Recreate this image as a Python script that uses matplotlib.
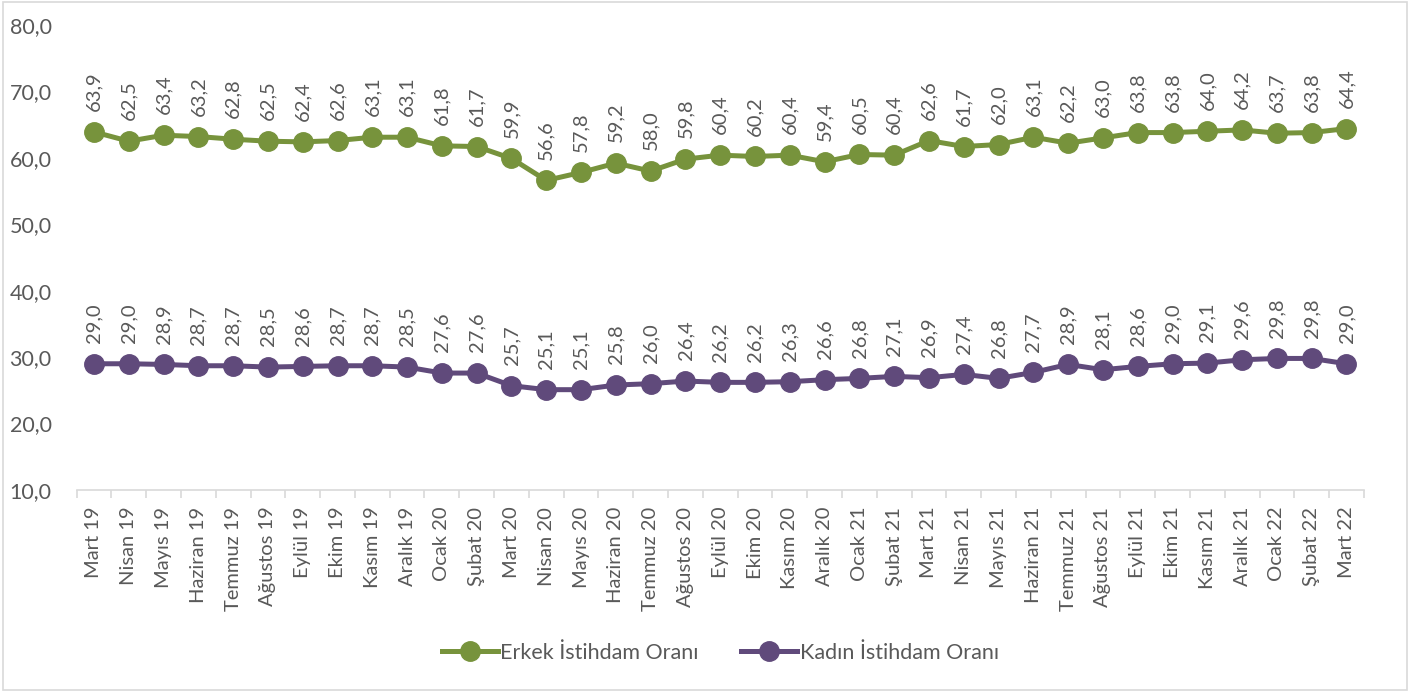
import numpy as np
import matplotlib
matplotlib.use('Agg')
import matplotlib.pyplot as plt
from matplotlib.patches import Rectangle

plt.rcParams['font.family'] = ['Lato', 'DejaVu Sans']

months = ['Mart 19', 'Nisan 19', 'Mayıs 19', 'Haziran 19', 'Temmuz 19', 'Ağustos 19',
          'Eylül 19', 'Ekim 19', 'Kasım 19', 'Aralık 19', 'Ocak 20', 'Şubat 20',
          'Mart 20', 'Nisan 20', 'Mayıs 20', 'Haziran 20', 'Temmuz 20', 'Ağustos 20',
          'Eylül 20', 'Ekim 20', 'Kasım 20', 'Aralık 20', 'Ocak 21', 'Şubat 21',
          'Mart 21', 'Nisan 21', 'Mayıs 21', 'Haziran 21', 'Temmuz 21', 'Ağustos 21',
          'Eylül 21', 'Ekim 21', 'Kasım 21', 'Aralık 21', 'Ocak 22', 'Şubat 22', 'Mart 22']

erkek = [63.9, 62.5, 63.4, 63.2, 62.8, 62.5, 62.4, 62.6, 63.1, 63.1, 61.8, 61.7,
         59.9, 56.6, 57.8, 59.2, 58.0, 59.8, 60.4, 60.2, 60.4, 59.4, 60.5, 60.4,
         62.6, 61.7, 62.0, 63.1, 62.2, 63.0, 63.8, 63.8, 64.0, 64.2, 63.7, 63.8, 64.4]

kadin = [29.0, 29.0, 28.9, 28.7, 28.7, 28.5, 28.6, 28.7, 28.7, 28.5, 27.6, 27.6,
         25.7, 25.1, 25.1, 25.8, 26.0, 26.4, 26.2, 26.2, 26.3, 26.6, 26.8, 27.1,
         26.9, 27.4, 26.8, 27.7, 28.9, 28.1, 28.6, 29.0, 29.1, 29.6, 29.8, 29.8, 29.0]

series = [('Erkek İstihdam Oranı', erkek, '#77933C'),
          ('Kadın İstihdam Oranı', kadin, '#604A7B')]

text_color = '#595959'

fig = plt.figure(figsize=(14.1, 6.91), dpi=100)
ax = fig.add_axes([0.0543, 0.2909, 0.913, 0.673])

x = np.arange(len(months))
for name, vals, color in series:
    ax.plot(x, vals, color=color, lw=3.6, marker='o', markersize=14, label=name)
    for xi, v in zip(x, vals):
        ax.annotate(f'{v:.1f}'.replace('.', ','), (xi, v), xytext=(0, 15),
                    textcoords='offset points', rotation=90, ha='center', va='bottom',
                    fontsize=14.5, color=text_color)

ax.set_xlim(-0.5, len(months) - 0.5)
ax.set_ylim(10, 80)
ax.set_yticks(np.arange(10, 81, 10))
ax.set_yticklabels([f'{t:.1f}'.replace('.', ',') for t in np.arange(10, 81, 10)])
ax.set_xticks(x)
ax.set_xticklabels(months, rotation=90)
ax.set_xticks(np.arange(-0.5, len(months), 1), minor=True)

for s in ['top', 'right', 'left']:
    ax.spines[s].set_visible(False)
ax.spines['bottom'].set_color('#D9D9D9')
ax.spines['bottom'].set_linewidth(1.2)
ax.tick_params(axis='y', length=0, labelsize=15.5, labelcolor=text_color, pad=18)
ax.tick_params(axis='x', which='major', length=0, labelsize=14.5, labelcolor=text_color, pad=12)
ax.tick_params(axis='x', which='minor', length=6, color='#D9D9D9', width=1.2)

ax.legend(loc='center', bbox_to_anchor=(0.5, -0.35), ncol=2, frameon=False,
          fontsize=15.5, labelcolor=text_color, handlelength=2.6, columnspacing=2.0,
          handletextpad=0.1)

fig.patches.append(Rectangle((0.002, 0.002), 0.996, 0.995, transform=fig.transFigure,
                             fill=False, edgecolor='#D9D9D9', lw=1.2))

fig.savefig('out.png', dpi=100)
